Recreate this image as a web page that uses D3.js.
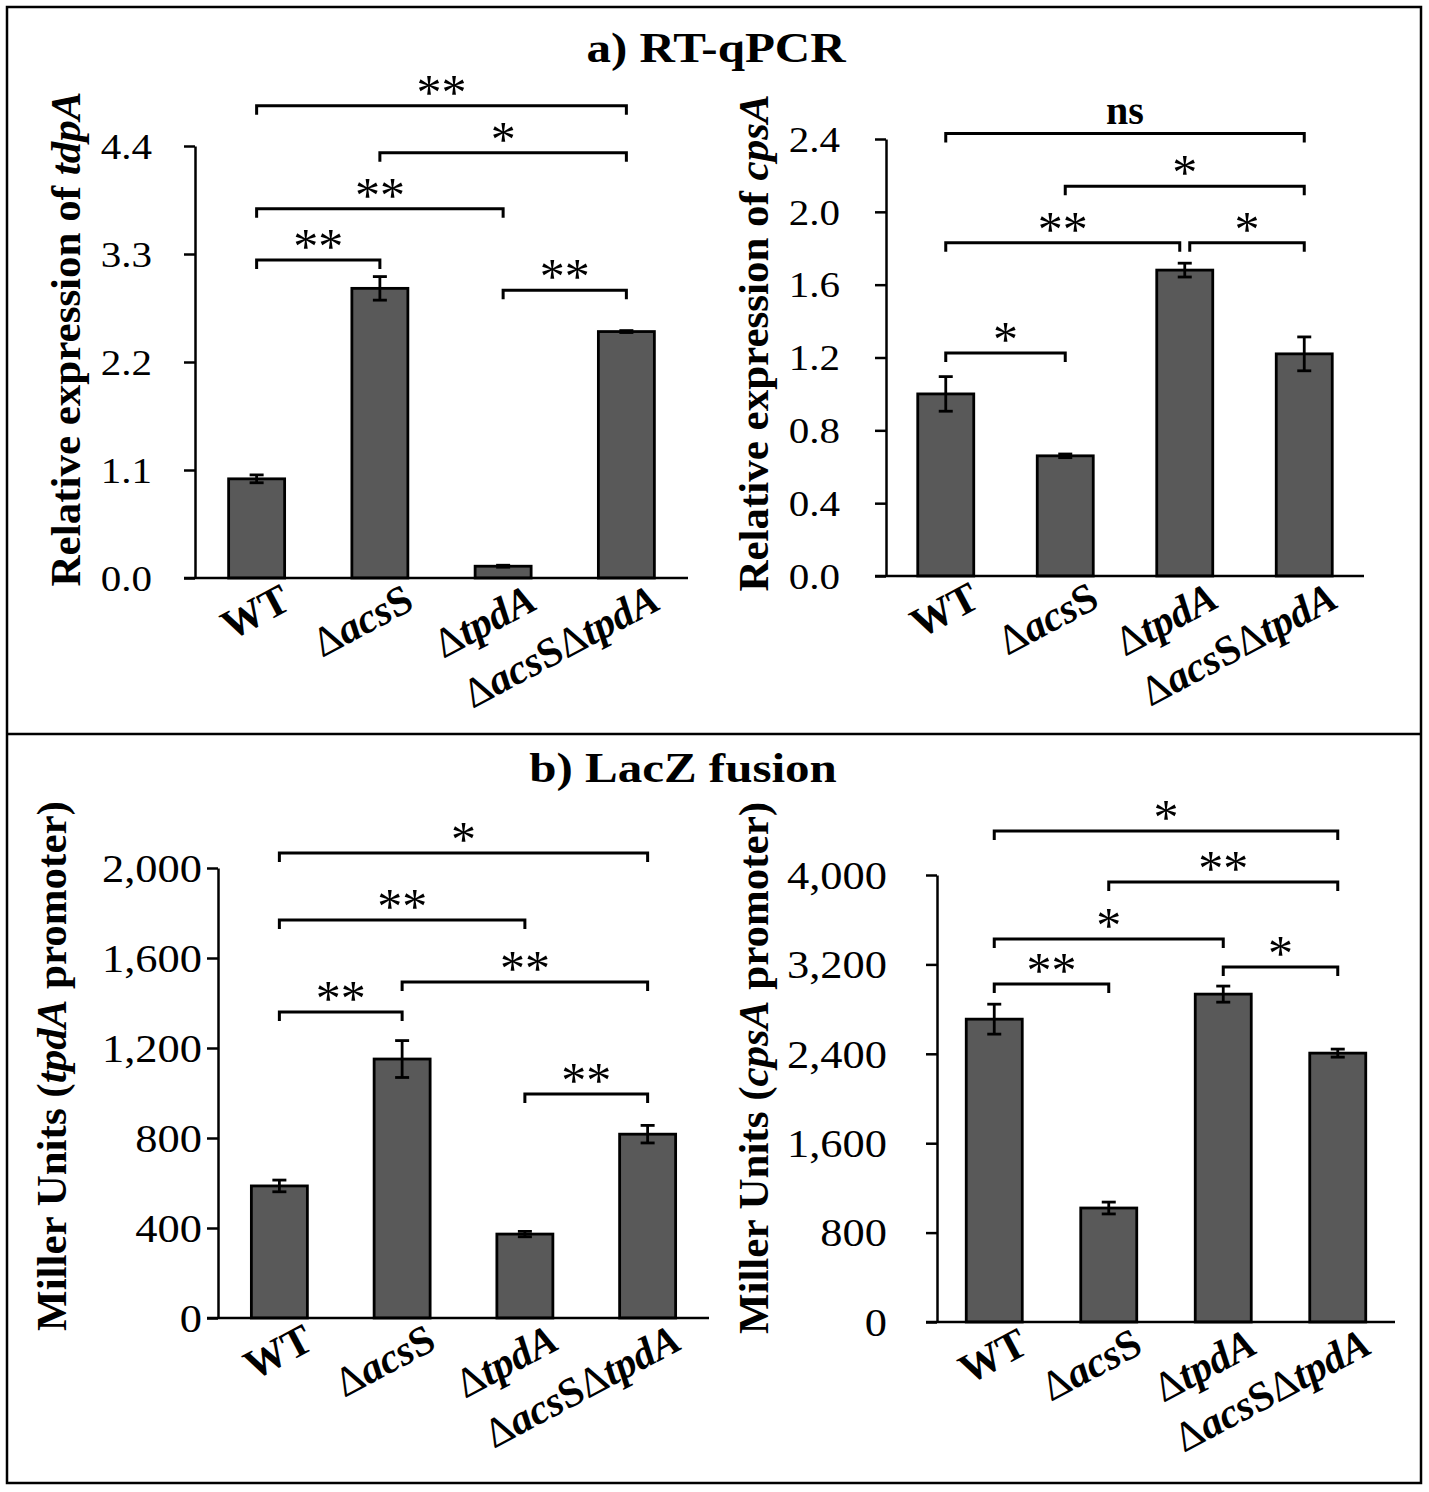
<!DOCTYPE html>
<html>
<head>
<meta charset="utf-8">
<script src="https://cdn.jsdelivr.net/npm/d3@7"></script>
<style>
  body { margin: 0; background: #fff; }
  svg text { font-family: "Liberation Serif", "Times New Roman", serif; fill: #000; }
</style>
</head>
<body>
<svg id="fig" width="1429" height="1492"></svg>
<script>
// categories (Δ is upright, gene names italic)
var strains = ["WT", "ΔacsS", "ΔtpdA", "ΔacsSΔtpdA"];

// a) RT-qPCR, tdpA
var tdpAExpr = [1.01, 2.95, 0.12, 2.51];
var tdpAExprErr = [0.04, 0.12, 0.01, 0.01];
var tdpAExprTicks = [0, 1.1, 2.2, 3.3, 4.4];
// [from, to, label, bracket height in axis units]
var tdpAExprSig = [[0, 3, "**", 4.81], [1, 3, "*", 4.33], [0, 2, "**", 3.76], [0, 1, "**", 3.24], [2, 3, "**", 2.93]];

// a) RT-qPCR, cpsA
var cpsAExpr = [1.0, 0.66, 1.68, 1.22];
var cpsAExprErr = [0.095, 0.01, 0.038, 0.093];
var cpsAExprTicks = [0, 0.4, 0.8, 1.2, 1.6, 2.0, 2.4];
var cpsAExprSig = [[0, 3, "ns", 2.43], [1, 3, "*", 2.14], [0, 2, "**", 1.83], [2, 3, "*", 1.83], [0, 1, "*", 1.225]];

// b) LacZ fusion, tpdA promoter
var tdpAMiller = [587, 1151, 373, 817];
var tdpAMillerErr = [26, 82, 12, 39];
var tdpAMillerTicks = [0, 400, 800, 1200, 1600, 2000];
var tdpAMillerSig = [[0, 3, "*", 2067], [0, 2, "**", 1769], [1, 3, "**", 1493], [0, 1, "**", 1360], [2, 3, "**", 996]];

// b) LacZ fusion, cpsA promoter
var cpsAMiller = [2710, 1020, 2934, 2406];
var cpsAMillerErr = [134, 53, 72, 36];
var cpsAMillerTicks = [0, 800, 1600, 2400, 3200, 4000];
var cpsAMillerSig = [[0, 3, "*", 4394], [1, 3, "**", 3937], [0, 2, "*", 3427], [2, 3, "*", 3177], [0, 1, "**", 3025]];

var svg = d3.select("#fig");
var stretch = 1.14; // the figure's text is a little wider than tall

// outer frame and divider
svg.append("rect")
  .attr("x", 7).attr("y", 7).attr("width", 1414).attr("height", 1476)
  .attr("fill", "none").attr("stroke", "#000").attr("stroke-width", 2.5);
svg.append("line")
  .attr("x1", 7).attr("x2", 1421).attr("y1", 734).attr("y2", 734)
  .attr("stroke", "#000").attr("stroke-width", 2.5);

[["a) RT-qPCR", 716, 62], ["b) LacZ fusion", 683, 782]].forEach(function (t) {
  svg.append("text")
    .attr("transform", "translate(" + t[1] + "," + t[2] + ") scale(" + stretch + ",1)")
    .attr("text-anchor", "middle").attr("font-size", 43).attr("font-weight", "bold")
    .text(t[0]);
});

var panels = [
  { vals: tdpAExpr, errs: tdpAExprErr, ticks: tdpAExprTicks, sig: tdpAExprSig,
    fmt: d3.format(".1f"), ylab: ["Relative expression of ", "tdpA", ""],
    x0: 195, x1: 688, y0: 578, y1: 146, tickFont: 36, tickPad: 32, labX: 80, labY: 339 },
  { vals: cpsAExpr, errs: cpsAExprErr, ticks: cpsAExprTicks, sig: cpsAExprSig,
    fmt: d3.format(".1f"), ylab: ["Relative expression of ", "cpsA", ""],
    x0: 886, x1: 1364, y0: 576, y1: 139, tickFont: 36, tickPad: 35, labX: 768, labY: 343 },
  { vals: tdpAMiller, errs: tdpAMillerErr, ticks: tdpAMillerTicks, sig: tdpAMillerSig,
    fmt: d3.format(","), ylab: ["Miller Units (", "tpdA", " promoter)"],
    x0: 218, x1: 709, y0: 1318, y1: 868, tickFont: 39, tickPad: 5, labX: 66, labY: 1066 },
  { vals: cpsAMiller, errs: cpsAMillerErr, ticks: cpsAMillerTicks, sig: cpsAMillerSig,
    fmt: d3.format(","), ylab: ["Miller Units (", "cpsA", " promoter)"],
    x0: 937, x1: 1395, y0: 1322, y1: 875, tickFont: 39, tickPad: 39, labX: 768, labY: 1068 }
];

function strainLabel(sel, name) {
  // split into Δ / gene pieces
  var parts = name.split(/(Δ)/).filter(function (s) { return s.length; });
  parts.forEach(function (p) {
    if (p === "Δ") {
      sel.append("tspan").attr("font-weight", "normal").text("Δ");
    } else if (p === "WT") {
      sel.append("tspan").text(p);
    } else if (/S$/.test(p)) {
      sel.append("tspan").attr("font-style", "italic").text(p.slice(0, -1));
      sel.append("tspan").text("S");
    } else {
      sel.append("tspan").attr("font-style", "italic").text(p);
    }
  });
}

panels.forEach(function (p) {
  var g = svg.append("g");
  var x = d3.scalePoint().domain(strains).range([p.x0, p.x1]).padding(0.5);
  var y = d3.scaleLinear().domain([0, d3.max(p.ticks)]).range([p.y0, p.y1]);
  var barW = 56;

  // y axis
  var yAxis = g.append("g").attr("transform", "translate(" + p.x0 + ",0)")
    .call(d3.axisLeft(y).tickValues(p.ticks).tickFormat(p.fmt)
      .tickSize(11).tickSizeOuter(0).tickPadding(p.tickPad));
  yAxis.select(".domain").attr("stroke-width", 2.5);
  yAxis.selectAll(".tick line").attr("stroke-width", 2.5);
  yAxis.selectAll(".tick text")
    .attr("x", null)
    .attr("transform", "translate(" + (-11 - p.tickPad) + ",0) scale(" + stretch + ",1)")
    .attr("font-size", p.tickFont)
    .attr("font-family", "Liberation Serif, Times New Roman, serif")
    .attr("dy", "0.34em");

  // bars
  var data = strains.map(function (s, i) { return { s: s, v: p.vals[i], e: p.errs[i] }; });
  g.selectAll("rect.bar").data(data).enter().append("rect")
    .attr("class", "bar")
    .attr("x", function (d) { return x(d.s) - barW / 2; })
    .attr("width", barW)
    .attr("y", function (d) { return y(d.v); })
    .attr("height", function (d) { return y(0) - y(d.v); })
    .attr("fill", "#595959").attr("stroke", "#000").attr("stroke-width", 2.8);

  // error bars
  var eb = g.selectAll("g.err").data(data).enter().append("g")
    .attr("stroke", "#000").attr("stroke-width", 2.8);
  eb.append("line")
    .attr("x1", function (d) { return x(d.s); }).attr("x2", function (d) { return x(d.s); })
    .attr("y1", function (d) { return y(d.v - d.e); }).attr("y2", function (d) { return y(d.v + d.e); });
  [-1, 1].forEach(function (sgn) {
    eb.append("line")
      .attr("x1", function (d) { return x(d.s) - 7; }).attr("x2", function (d) { return x(d.s) + 7; })
      .attr("y1", function (d) { return y(d.v + sgn * d.e); }).attr("y2", function (d) { return y(d.v + sgn * d.e); });
  });

  // x axis line
  g.append("line")
    .attr("x1", p.x0 - 11).attr("x2", p.x1)
    .attr("y1", y(0)).attr("y2", y(0))
    .attr("stroke", "#000").attr("stroke-width", 2.5);

  // rotated category labels
  strains.forEach(function (s) {
    var t = g.append("text")
      .attr("transform", "translate(" + (x(s) + 36) + "," + (y(0) + 30) + ") rotate(-28)")
      .attr("text-anchor", "end").attr("font-size", 42).attr("font-weight", "bold");
    strainLabel(t, s);
  });

  // y axis title
  var yt = g.append("text")
    .attr("transform", "translate(" + p.labX + "," + p.labY + ") rotate(-90)")
    .attr("text-anchor", "middle").attr("font-size", 43).attr("font-weight", "bold");
  yt.append("tspan").text(p.ylab[0]);
  yt.append("tspan").attr("font-style", "italic").text(p.ylab[1]);
  yt.append("tspan").text(p.ylab[2]);

  // significance brackets
  p.sig.forEach(function (b) {
    var shared = p.sig.filter(function (o) { return o !== b && o[3] === b[3]; });
    var xa = x(strains[b[0]]), xb = x(strains[b[1]]);
    shared.forEach(function (o) {
      if (o[0] === b[1]) xb -= 5;
      if (o[1] === b[0]) xa += 5;
    });
    var yl = y(b[3]);
    g.append("path")
      .attr("d", "M" + xa + "," + (yl + 9) + "V" + yl + "H" + xb + "V" + (yl + 9))
      .attr("fill", "none").attr("stroke", "#000").attr("stroke-width", 3);
    var ns = b[2] === "ns";
    g.append("text")
      .attr("x", (xa + xb) / 2).attr("y", ns ? yl - 10 : yl + 3)
      .attr("text-anchor", "middle").attr("font-size", ns ? 40 : 50)
      .attr("font-weight", ns ? "bold" : "normal")
      .text(b[2]);
  });
});
</script>
</body>
</html>
